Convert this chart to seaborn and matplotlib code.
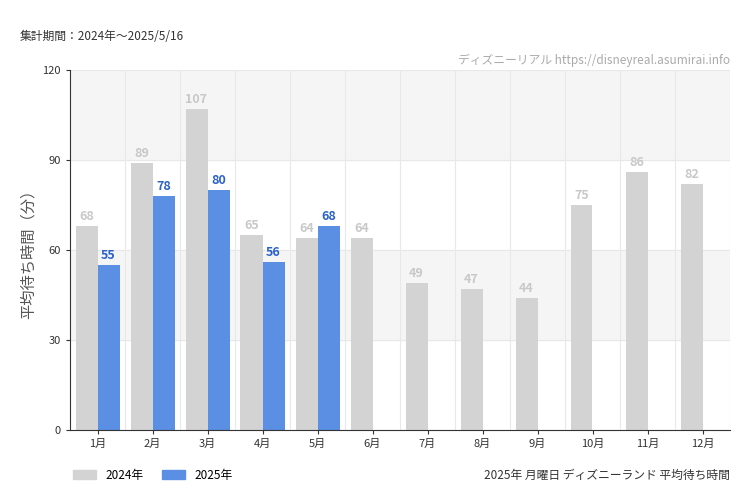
import matplotlib
matplotlib.use("Agg")
import matplotlib.pyplot as plt
import seaborn as sns
import pandas as pd
import numpy as np

plt.rcParams["font.family"] = "Noto Sans CJK JP"

months = [f"{i}月" for i in range(1, 13)]
v2024 = [68, 89, 107, 65, 64, 64, 49, 47, 44, 75, 86, 82]
v2025 = [55, 78, 80, 56, 68, None, None, None, None, None, None, None]

df = pd.DataFrame({
    "month": months * 2,
    "year": ["2024年"] * 12 + ["2025年"] * 12,
    "value": v2024 + v2025,
})
colors = {"2024年": "#d3d3d3", "2025年": "#5b8fe3"}
labcol = {"2024年": "#c8c8c8", "2025年": "#2a62c8"}

fig = plt.figure(figsize=(7.5, 5), dpi=100)
ax = fig.add_axes([70/750, 70/500, 660/750, 360/500])
for lo, hi in [(30, 60), (90, 120)]:
    ax.axhspan(lo, hi, color="#f5f5f5", zorder=0)
sns.barplot(data=df, x="month", y="value", hue="year", palette=colors,
            width=0.8, ax=ax, legend=False, zorder=2, saturation=1)
for i, cont in enumerate(ax.containers):
    yr = ["2024年", "2025年"][i]
    vals = [v2024, v2025][i]
    for bar, v in zip(cont, vals):
        if v is None:
            continue
        ax.text(bar.get_x() + bar.get_width()/2, v + 1, str(v), ha="center",
                va="bottom", fontsize=9, color=labcol[yr], fontweight="bold")
ax.set_ylim(0, 120)
ax.set_yticks([0, 30, 60, 90, 120])
ax.set_xlim(-0.5, 11.5)
ax.set_xticks(np.arange(12) + 0.5, minor=True)
ax.grid(axis="x", which="minor", color="#e8e8e8", lw=0.8, zorder=1)
ax.grid(axis="y", color="#e8e8e8", lw=0.8, zorder=1)
ax.set_axisbelow(True)
ax.set_xlabel("")
ax.set_ylabel("平均待ち時間（分）", fontsize=11, color="#555555")
ax.tick_params(labelsize=8, colors="#333333", length=3)
ax.tick_params(which="minor", length=0)
for s in ["top", "right"]:
    ax.spines[s].set_visible(False)
ax.spines["left"].set_color("#333333")
ax.spines["bottom"].set_color("#333333")

fig.text(20/750, 1 - 37/500, "集計期間：2024年～2025/5/16", fontsize=8.5, va="center", color="#333333")
fig.text(730/750, 1 - 60/500, "ディズニーリアル https://disneyreal.asumirai.info", fontsize=8.5,
         ha="right", va="center", color="#aaaaaa")
fig.text(730/750, 1 - 475/500, "2025年 月曜日 ディズニーランド 平均待ち時間", fontsize=8.5,
         ha="right", va="center", color="#333333")
from matplotlib.patches import Patch
fig.legend(handles=[Patch(color=colors[k], label=k) for k in colors], loc="center left",
           bbox_to_anchor=(62/750, 1 - 475/500), ncol=2, frameon=False, fontsize=8.5,
           handlelength=2, handleheight=0.9, columnspacing=1.5)
fig.savefig("out.png", dpi=100)
